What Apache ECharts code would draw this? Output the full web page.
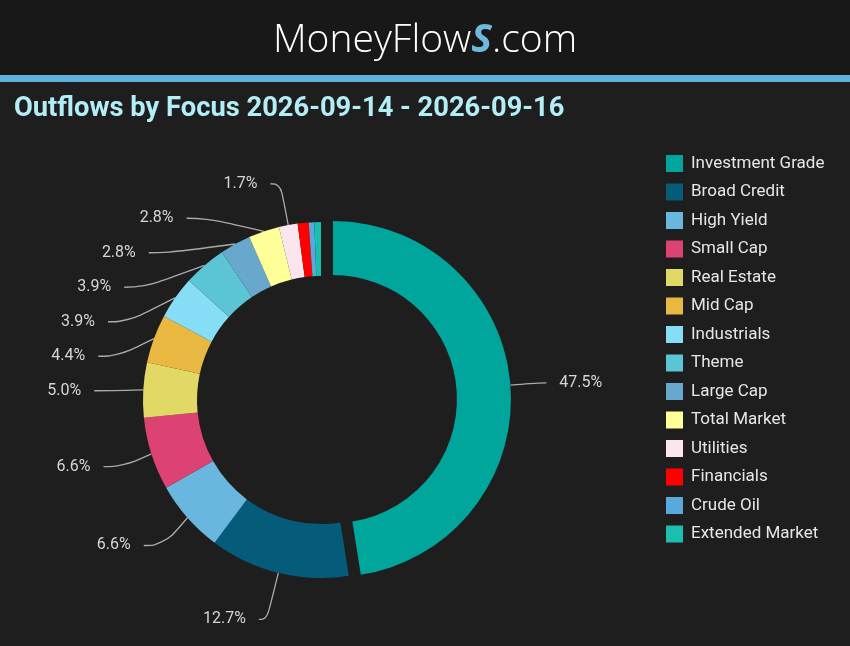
<!DOCTYPE html>
<html>
<head>
<meta charset="utf-8">
<script src="https://cdn.jsdelivr.net/npm/echarts@6/dist/echarts.min.js"></script>
<style>
html,body{margin:0;padding:0;background:#1e1e1e;}
#chart{width:850px;height:646px;}
</style>
</head>
<body>
<div id="chart"></div>
<script>
const categories = ['Investment Grade','Broad Credit','High Yield','Small Cap','Real Estate','Mid Cap','Industrials','Theme','Large Cap','Total Market','Utilities','Financials','Crude Oil','Extended Market'];
const values = [47.5, 12.7, 6.6, 6.6, 5.0, 4.4, 3.9, 3.9, 2.8, 2.8, 1.7, 1.0, 0.5, 0.6];
const colors = ['#00a59c','#055b7a','#69b6de','#dc4272','#e2d866','#e9b840','#86def6','#5bc5d6','#67a8cc','#ffff99','#fbe6ee','#ff0000','#5aa9dc','#1bbfb0'];
const titleText = 'Outflows by Focus 2026-09-14 - 2026-09-16';

const chart = echarts.init(document.getElementById('chart'));
const data = categories.map((c, i) => {
  const item = {
    name: c,
    value: values[i],
    selected: i === 0,
    itemStyle: { color: colors[i] }
  };
  if (i === 0) item.labelLine = { length: 28, length2: 8 };
  if (i === 1) item.labelLine = { length: 48, length2: 8 };
  if (i === 10) item.labelLine = { length: 42, length2: 10 };
  return item;
});

chart.setOption({
  backgroundColor: '#1e1e1e',
  animation: false,
  graphic: [
    { type: 'rect', left: 0, top: 0, shape: { width: 850, height: 75 }, style: { fill: '#181818' }, z: 0 },
    { type: 'rect', left: 0, top: 75, shape: { width: 850, height: 7 }, style: { fill: '#5fb2de' }, z: 0 },
    {
      type: 'text', left: 'center', top: 21, z: 1,
      style: {
        text: '{a|MoneyFlow}{s|S}{a|.com}',
        rich: {
          a: { fill: '#ffffff', fontSize: 39, fontFamily: 'Open Sans', fontWeight: 300 },
          s: { fill: '#6fb9dc', fontSize: 39, fontFamily: 'Open Sans', fontWeight: 'bold', fontStyle: 'italic' }
        }
      }
    }
  ],
  title: {
    text: titleText,
    left: 9, top: 91,
    textStyle: { color: '#b3eef6', fontSize: 27.3, fontWeight: 'bold', fontFamily: 'Roboto' }
  },
  legend: {
    orient: 'vertical',
    left: 661, top: 150,
    itemWidth: 17, itemHeight: 17, itemGap: 11.5,
    icon: 'rect',
    selectedMode: false,
    textStyle: { color: '#e6e6e6', fontSize: 17, fontFamily: 'Roboto', padding: [0, 0, 0, 3] },
    data: categories
  },
  series: [{
    type: 'pie',
    center: [321, 400],
    radius: [124, 178],
    startAngle: 90,
    clockwise: true,
    selectedMode: 'single',
    selectedOffset: 12,
    avoidLabelOverlap: true,
    minShowLabelAngle: 5,
    label: {
      color: '#d6d6d6', fontSize: 16, fontFamily: 'Roboto',
      lineHeight: 32.5,
      formatter: p => p.value.toFixed(1) + '%',
      distanceToLabelLine: 13
    },
    labelLine: {
      length: 42, length2: 20, smooth: 0.5,
      lineStyle: { color: '#aaaaaa', width: 1.3 }
    },
    emphasis: { disabled: true },
    data: data
  }]
});
</script>
</body>
</html>
